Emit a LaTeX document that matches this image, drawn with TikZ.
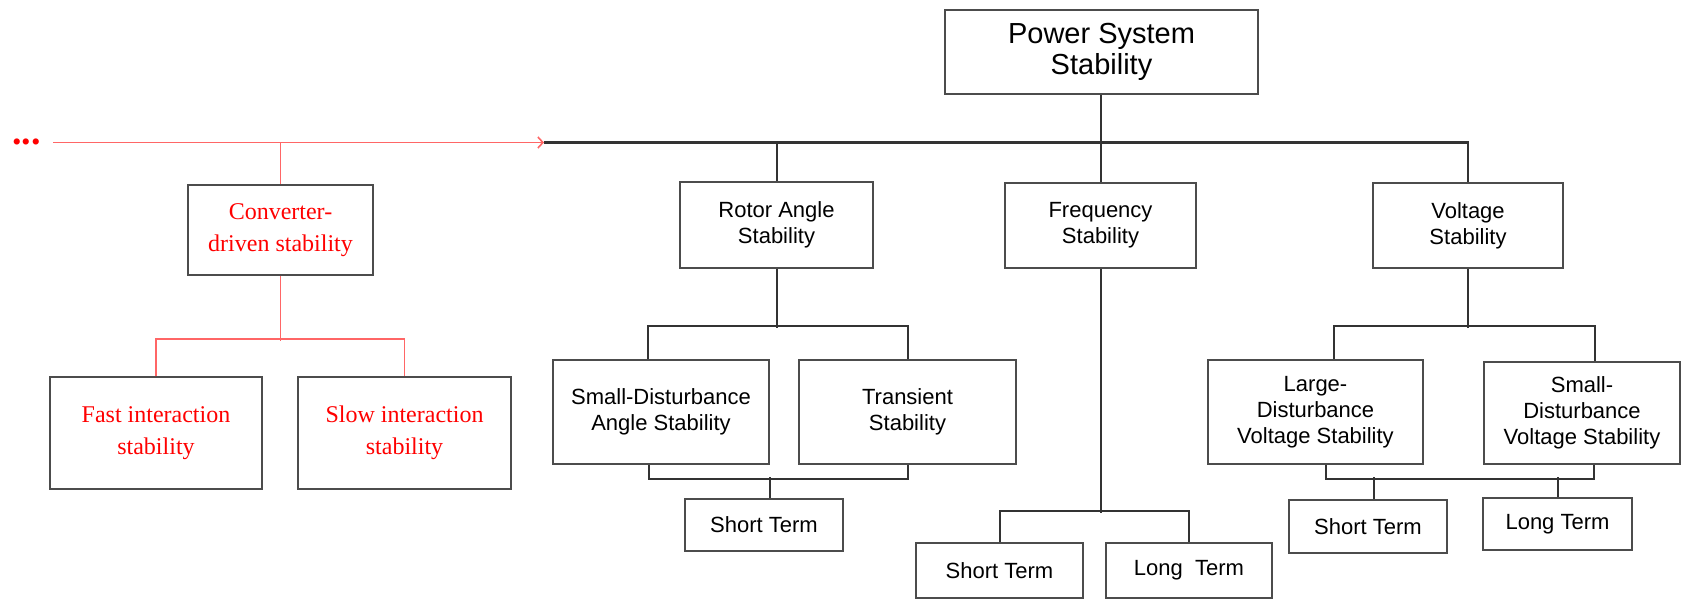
\documentclass[tikz,border=0pt]{standalone}
\usepackage{fontspec}
\setmainfont{Liberation Sans}
\newfontfamily\timesfont{Liberation Serif}
\usetikzlibrary{arrows.meta}

\tikzset{
  box/.style={draw=black!70, line width=1.5pt, rectangle, inner sep=0pt,
    align=center, font=\fontsize{22}{26}\selectfont},
  redbox/.style={box, text=red, font=\timesfont\fontsize{24}{32}\selectfont},
  link/.style={draw=black!80, line width=2pt},
  redlink/.style={draw=red!60, line width=1.6pt},
}

\begin{document}
\begin{tikzpicture}[x=1pt, y=-1pt]
  \useasboundingbox (0,0) rectangle (1682,600);

  % top level
  \node[box, minimum width=313pt, minimum height=84pt, font=\fontsize{29}{31}\selectfont]
    (pss) at (1101.5,52) {Power System\\Stability};
  \coordinate (tip) at (544,142.5);
  \coordinate (start) at (53,142.5);

  % second level
  \node[box, minimum width=193pt, minimum height=86pt] (ra) at (776.5,225) {Rotor Angle\\Stability};
  \node[box, minimum width=191pt, minimum height=85pt] (freq) at (1100.5,225.5) {Frequency\\Stability};
  \node[box, minimum width=190pt, minimum height=85pt] (volt) at (1468,225.5) {Voltage\\Stability};
  \node[redbox, minimum width=185pt, minimum height=90pt] (conv) at (280.5,230) {Converter-\\driven stability};

  % third level
  \node[box, minimum width=216pt, minimum height=104pt] (sda) at (661,412) {Small-Disturbance\\Angle Stability};
  \node[box, minimum width=217pt, minimum height=104pt] (trans) at (907.5,412) {Transient\\Stability};
  \node[box, minimum width=215pt, minimum height=104pt] (ldv) at (1315.5,412) {Large-\\Disturbance\\Voltage Stability};
  \node[box, minimum width=196pt, minimum height=102pt] (sdv) at (1582,413) {Small-\\Disturbance\\Voltage Stability};
  \node[redbox, minimum width=212pt, minimum height=112pt] (fast) at (156,433) {Fast interaction\\stability};
  \node[redbox, minimum width=213pt, minimum height=112pt] (slow) at (404.5,433) {Slow interaction\\stability};

  % time frames
  \node[box, minimum width=158pt, minimum height=52pt] (st1) at (764,525) {Short Term};
  \node[box, minimum width=167pt, minimum height=55pt] (fst) at (999.5,570.5) {Short Term};
  \node[box, minimum width=166pt, minimum height=55pt] (flt) at (1189,570.5) {Long\ \ Term};
  \node[box, minimum width=158pt, minimum height=53pt] (vst) at (1368,526.5) {Short Term};
  \node[box, minimum width=149pt, minimum height=52pt] (vlt) at (1557.5,524) {Long Term};

  % main bus
  \draw[link, line width=2.4pt] (tip) -- (tip -| volt.north) -- (volt.north);
  \draw[link] (pss.south -| freq.north) -- (freq.north);
  \draw[link] (ra.north |- tip) -- (ra.north);

  % rotor angle branch
  \draw[link] (ra.south) -- ++(0,59);
  \draw[link] ([xshift=-13pt]sda.north) -- ++(0,-33) -| (trans.north);
  \draw[link] ([xshift=-12pt]sda.south) -- ++(0,14) -| (trans.south);
  \draw[link] ([xshift=6pt]st1.north) -- ++(0,-21);

  % frequency branch
  \draw[link] (freq.south) -- ++(0,244);
  \draw[link] (fst.north) -- ++(0,-31) -| (flt.north);

  % voltage branch
  \draw[link] (volt.south) -- ++(0,59);
  \draw[link] ([xshift=18pt]ldv.north) -- ++(0,-33) -| ([xshift=13pt]sdv.north);
  \draw[link] ([xshift=10pt]ldv.south) -- ++(0,14) -| ([xshift=12pt]sdv.south);
  \draw[link] ([xshift=6pt]vst.north) -- ++(0,-22);
  \draw[link] (vlt.north) -- ++(0,-20);

  % converter-driven branch
  \node[text=red, font=\timesfont\bfseries\fontsize{38}{38}\selectfont, anchor=base, inner sep=0pt]
    (more) at (26.5,144.5) {...};
  \draw[redlink, -{Straight Barb[length=5pt, width=11pt]}] (start) -- (tip);
  \draw[redlink] (conv.north |- tip) -- (conv.north);
  \draw[redlink] (conv.south) -- ++(0,65);
  \draw[redlink] (fast.north) -- ++(0,-37) -| (slow.north);
\end{tikzpicture}
\end{document}
